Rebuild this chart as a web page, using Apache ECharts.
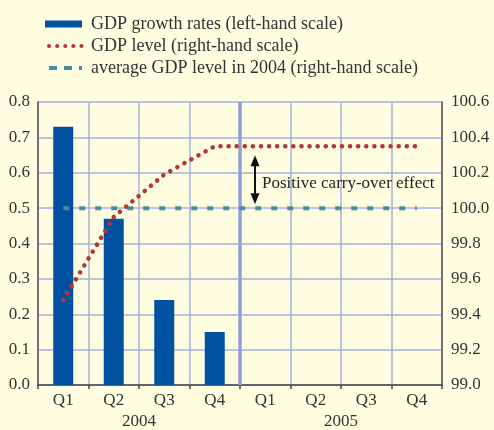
<!DOCTYPE html>
<html><head><meta charset="utf-8">
<script src="https://cdn.jsdelivr.net/npm/echarts@6/dist/echarts.min.js"></script>
<style>html,body{margin:0;padding:0;background:#fffde0}#c{width:494px;height:430px}</style>
</head><body><div id="c"></div>
<script>
const quarters = ['Q1', 'Q2', 'Q3', 'Q4', 'Q1', 'Q2', 'Q3', 'Q4'];
const years = ['2004', '2005'];
const growthRates = [0.73, 0.47, 0.24, 0.15, null, null, null, null];
const gdpLevel = [99.48, 99.95, 100.19, 100.35, 100.35, 100.35, 100.35, 100.35];
const avgLevel2004 = [100.0, 100.0, 100.0, 100.0, 100.0, 100.0, 100.0, 100.0];
const leftScale = { min: 0, max: 0.8, interval: 0.1 };
const rightScale = { min: 99.0, max: 100.6, interval: 0.2 };
const seriesNames = ['GDP growth rates (left-hand scale)', 'GDP level (right-hand scale)', 'average GDP level in 2004 (right-hand scale)'];
const annotationText = 'Positive carry-over effect';

const FONT = "'Liberation Serif', 'Times New Roman', serif";
const RED = '#b53535', TEAL = '#4a8c9c', BLUE = '#0052a0';
const chart = echarts.init(document.getElementById('c'), null, { renderer: 'canvas' });
const option = {
  backgroundColor: '#fffde0',
  animation: false,
  textStyle: { fontFamily: FONT },
  legend: {
    orient: 'vertical', left: 38, top: 10, itemWidth: 37, itemHeight: 7, itemGap: 4,
    textStyle: { fontFamily: FONT, fontSize: 18, color: '#333', lineHeight: 17, padding: [0, 0, 0, 4] },
    data: [
      { name: seriesNames[0], icon: 'rect', itemStyle: { color: BLUE } },
      { name: seriesNames[1], itemStyle: { opacity: 0 }, lineStyle: { color: RED, width: 4, type: [0.1, 8], cap: 'round', dashOffset: -4 } },
      { name: seriesNames[2], itemStyle: { opacity: 0 }, lineStyle: { color: TEAL, width: 4, type: [8, 7] } }
    ],
    selectedMode: false
  },
  grid: { left: 38, right: 52, top: 102, bottom: 43, containLabel: false },
  xAxis: [
    {
      type: 'category', data: quarters, position: 'bottom', boundaryGap: true,
      axisLine: { show: true, lineStyle: { color: '#444', width: 1.5 } },
      axisTick: { show: true, length: 4, lineStyle: { color: '#444', width: 1.5 } },
      axisLabel: { margin: 7, fontFamily: FONT, fontSize: 17, color: '#333' },
      splitLine: { show: true, lineStyle: { color: '#a3b1e3', width: 1.5 } }
    },
    {
      type: 'category', data: years, position: 'bottom', offset: 21, boundaryGap: true,
      axisLine: { show: false }, axisTick: { show: false },
      axisLabel: { margin: 7, fontFamily: FONT, fontSize: 17, color: '#333' },
      splitLine: { show: false }
    }
  ],
  yAxis: [
    {
      type: 'value', position: 'left', min: leftScale.min, max: leftScale.max, interval: leftScale.interval,
      axisLine: { show: true, lineStyle: { color: '#555', width: 1.5 } },
      axisTick: { show: false },
      axisLabel: { margin: 8, fontFamily: FONT, fontSize: 17, color: '#333', formatter: v => v.toFixed(1) },
      splitLine: { show: true, lineStyle: { color: '#a3b1e3', width: 1.5 } }
    },
    {
      type: 'value', position: 'right', min: rightScale.min, max: rightScale.max, interval: rightScale.interval,
      axisLine: { show: true, lineStyle: { color: '#555', width: 1.5 } },
      axisTick: { show: false },
      axisLabel: { margin: 9, fontFamily: FONT, fontSize: 17, color: '#333', formatter: v => v.toFixed(1) },
      splitLine: { show: false }
    }
  ],
  series: [
    {
      name: seriesNames[0], type: 'bar', xAxisIndex: 0, yAxisIndex: 0, data: growthRates,
      barWidth: 20, itemStyle: { color: BLUE }, z: 2
    },
    {
      name: seriesNames[1], type: 'line', xAxisIndex: 0, yAxisIndex: 1, data: gdpLevel,
      symbol: 'none', lineStyle: { color: RED, width: 4.5, type: [0.1, 8], cap: 'round' },
      itemStyle: { color: RED }, z: 4
    },
    {
      name: seriesNames[2], type: 'line', xAxisIndex: 0, yAxisIndex: 1, data: avgLevel2004,
      symbol: 'none', lineStyle: { color: TEAL, width: 4, type: [6, 10] },
      itemStyle: { color: TEAL }, z: 3
    }
  ]
};
chart.setOption(option);

// Decorations positioned through the library's own scales
const xQ4 = chart.convertToPixel({ xAxisIndex: 0 }, 3);
const xQ1 = chart.convertToPixel({ xAxisIndex: 0 }, 4);
const sepX = (xQ4 + xQ1) / 2;
const gTop = chart.convertToPixel({ yAxisIndex: 0 }, leftScale.max);
const gBot = chart.convertToPixel({ yAxisIndex: 0 }, leftScale.min);
const yLvl = chart.convertToPixel({ yAxisIndex: 1 }, gdpLevel[7]);
const yAvg = chart.convertToPixel({ yAxisIndex: 1 }, avgLevel2004[7]);
const ax = sepX + 15;
const tipTop = yLvl + 9, tipBot = yAvg - 4;
chart.setOption({
  graphic: [
    { type: 'line', z: 1, shape: { x1: sepX, y1: gTop, x2: sepX, y2: gBot }, style: { stroke: '#8f9fd8', lineWidth: 3.5 } },
    { type: 'line', z: 10, shape: { x1: ax, y1: tipTop + 6, x2: ax, y2: tipBot - 6 }, style: { stroke: '#111', lineWidth: 2 } },
    { type: 'polygon', z: 10, shape: { points: [[ax, tipTop], [ax - 4.5, tipTop + 11], [ax + 4.5, tipTop + 11]] }, style: { fill: '#111' } },
    { type: 'polygon', z: 10, shape: { points: [[ax, tipBot], [ax - 4.5, tipBot - 11], [ax + 4.5, tipBot - 11]] }, style: { fill: '#111' } },
    { type: 'text', z: 10, x: sepX + 22, y: (yLvl + yAvg) / 2 + 6, style: { text: annotationText, font: '17px ' + FONT, fill: '#222', verticalAlign: 'middle', align: 'left' } }
  ]
});
</script></body></html>
